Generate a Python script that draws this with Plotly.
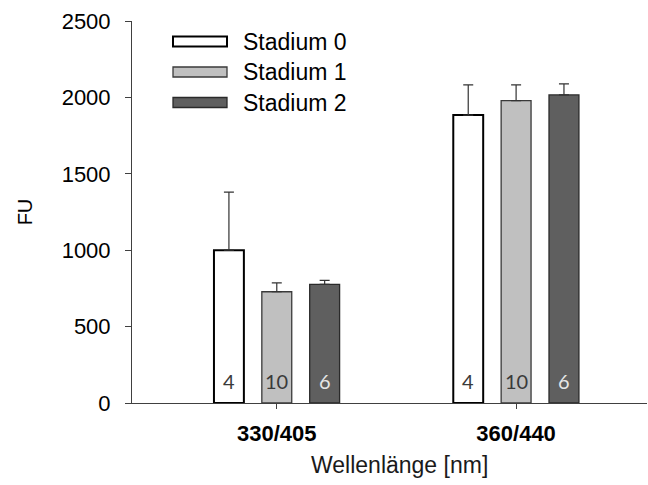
import plotly.graph_objects as go

# Excitation/emission wavelength pairs
wavelengths = ["330/405", "360/440"]

# Mean fluorescence (FU) and upper SD per stage
stadium0 = [1000, 1884]
stadium0_err = [380, 198]
stadium1 = [728, 1979]
stadium1_err = [58, 103]
stadium2 = [776, 2016]
stadium2_err = [26, 72]

# Number of samples per bar
n_stadium0 = ["4", "4"]
n_stadium1 = ["10", "10"]
n_stadium2 = ["6", "6"]

series_names = ["Stadium 0", "Stadium 1", "Stadium 2"]
series_values = [stadium0, stadium1, stadium2]
series_errors = [stadium0_err, stadium1_err, stadium2_err]
series_counts = [n_stadium0, n_stadium1, n_stadium2]

fill_colors = ["#ffffff", "#c0c0c0", "#5f5f5f"]
line_colors = ["#000000", "#3a3a3a", "#2a2a2a"]
line_widths = [2, 1.3, 1.3]
count_colors = ["#3a3a3a", "#3a3a3a", "#e6e6e6"]

W, H = 648, 485
M_L, M_R, M_T, M_B = 132, 1, 21, 82
plot_w = W - M_L - M_R
plot_h = H - M_T - M_B
BARGAP = 0.4

fig = go.Figure()
for name, vals, errs, fc, lc, lw in zip(
        series_names, series_values, series_errors,
        fill_colors, line_colors, line_widths):
    fig.add_trace(go.Bar(
        name=name,
        x=wavelengths,
        y=vals,
        marker=dict(color=fc, line=dict(color=lc, width=lw)),
        error_y=dict(type="data", symmetric=False, array=errs,
                     arrayminus=[0] * len(errs),
                     color="#333333", thickness=1.2, width=5),
        showlegend=False,
    ))


def px_to_paper_x(px):
    return (px - M_L) / plot_w


def px_to_paper_y(py):
    return (H - M_B - py) / plot_h


shapes = []
annotations = []

# Sample counts near the base of each bar, centred on the grouped bar slots
n_series = len(series_names)
slot = (1 - BARGAP) / n_series
for j, (counts, tc) in enumerate(zip(series_counts, count_colors)):
    for i, txt in enumerate(counts):
        annotations.append(dict(
            xref="x", yref="y",
            x=i + (j - (n_series - 1) / 2) * slot, y=0,
            yshift=22, xanchor="center", yanchor="middle",
            text=txt, showarrow=False,
            font=dict(family="Lato", size=20, color=tc),
        ))

# Legend drawn as wide swatches with labels
for i, (name, fc, lc, lw) in enumerate(zip(series_names, fill_colors, line_colors, line_widths)):
    cy = 41.5 + 30.5 * i
    shapes.append(dict(
        type="rect", xref="paper", yref="paper",
        x0=px_to_paper_x(173), x1=px_to_paper_x(227),
        y0=px_to_paper_y(cy + 5), y1=px_to_paper_y(cy - 5),
        fillcolor=fc, line=dict(color=lc, width=lw),
    ))
    annotations.append(dict(
        xref="paper", yref="paper",
        x=px_to_paper_x(241), y=px_to_paper_y(cy),
        xanchor="left", yanchor="middle",
        text=name, showarrow=False,
        font=dict(family="Arial", size=23, color="#000000"),
    ))

# X-axis title
annotations.append(dict(
    xref="paper", yref="paper",
    x=px_to_paper_x(399), y=px_to_paper_y(465),
    xanchor="center", yanchor="middle",
    text="Wellenlänge [nm]", showarrow=False,
    font=dict(family="Arial", size=23, color="#1a1a1a"),
))

fig.update_layout(
    width=W, height=H,
    margin=dict(l=M_L, r=M_R, t=M_T, b=M_B),
    paper_bgcolor="white", plot_bgcolor="white",
    barmode="group", bargap=BARGAP, bargroupgap=0.375,
    font=dict(family="Arial", color="#000000"),
    shapes=shapes,
    annotations=annotations,
    xaxis=dict(
        range=[-0.605, 1.547],
        showline=True, linecolor="#404040", linewidth=1,
        ticks="outside", ticklen=5, tickcolor="#404040",
        tickfont=dict(family="Arial", size=22, color="#000000", weight="bold"),
        ticklabelstandoff=6,
        showgrid=False, zeroline=False,
    ),
    yaxis=dict(
        range=[0, 2500],
        tickvals=[0, 500, 1000, 1500, 2000, 2500],
        showline=True, linecolor="#404040", linewidth=1,
        ticks="outside", ticklen=6, tickcolor="#404040",
        tickfont=dict(family="Arial", size=22, color="#000000"),
        ticklabelstandoff=10,
        showgrid=False, zeroline=False,
        title=dict(text="FU", font=dict(family="Arial", size=20, color="#000000"),
                   standoff=23),
    ),
)

fig.write_html("out.html")
